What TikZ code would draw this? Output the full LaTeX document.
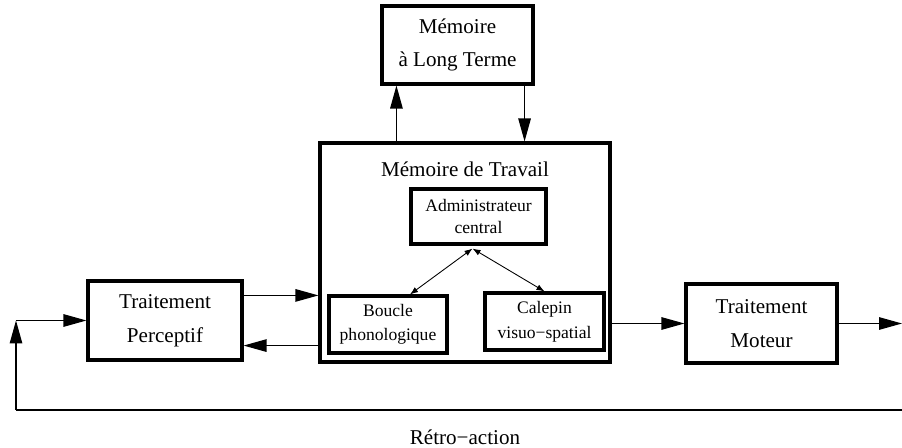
\documentclass[tikz,border=0pt]{standalone}
\usepackage{fontspec}
\setmainfont{Liberation Serif}
\usetikzlibrary{arrows.meta,positioning,calc}

\begin{document}
\begin{tikzpicture}[x=0.02cm,y=-0.02cm,>={Triangle[length=4.6mm,width=2.5mm]},
    boite/.style={draw,line width=1.8pt,align=center,inner sep=0pt,font=\fontsize{12pt}{14.5pt}\selectfont},
    petite/.style={draw,line width=1.8pt,align=center,inner sep=0pt,font=\fontsize{10pt}{12pt}\selectfont},
    texte/.style={font=\fontsize{12pt}{14.5pt}\selectfont},
    fleche/.style={->,line width=0.7pt},
    lien/.style={<->,line width=0.5pt,>={Latex[length=1.6mm,width=1.2mm]}}]

        \useasboundingbox (0,0) rectangle (902,448);

        % --- Boites ---
        \node[boite,minimum width=3.02cm,minimum height=1.56cm] (mlt) at (457.5,45) {Mémoire\\[4pt]à Long Terme};
        \node[boite,minimum width=5.8cm,minimum height=4.38cm] (mdt) at (465,252.5) {};
        \node[texte] (titre) at (465,169) {Mémoire de Travail};

        \node[petite,minimum width=2.7cm,minimum height=1.1cm] (adm) at (478.5,216.5) {Administrateur\\central};
        \node[petite,minimum width=2.36cm,minimum height=1.14cm] (bou) at (388,324.5) {Boucle\\[2pt]phonologique};
        \node[petite,minimum width=2.38cm,minimum height=1.14cm] (cal) at (544.5,321.5) {Calepin\\[2pt]visuo−spatial};

        \node[boite,minimum width=3.08cm,minimum height=1.58cm] (per) at (165,320.5) {Traitement\\[5pt]Perceptif};
        \node[boite,minimum width=3.02cm,minimum height=1.58cm] (mot) at (761.5,323.5) {Traitement\\[5pt]Moteur};

        \node[texte] (retro) at (465,437) {Rétro−action};

        % --- Points d'attache ---
        \coordinate (haut) at ([xshift=0.32cm]mlt.south west);
        \coordinate (bas) at ([xshift=-0.2cm]mlt.south east);
        \coordinate (entree) at ([yshift=-0.32cm]per.north east);
        \coordinate (rendu) at ([yshift=0.32cm]per.south east);
        \coordinate (bord) at (902,410);
        \coordinate (coin) at (16,410);
        \coordinate (pivot) at ([xshift=-0.12cm,yshift=-0.06cm]adm.south);

        % Memoire a long terme
        \draw[fleche] (haut |- mdt.north) -- (haut);
        \draw[fleche] (bas) -- (bas |- mdt.north);

        % Perception
        \draw[fleche] (entree) -- (entree -| mdt.west);
        \draw[fleche] (rendu -| mdt.west) -- (rendu);

        % Action
        \draw[fleche] (mot.west -| mdt.east) -- (mot.west);
        \draw[fleche] (mot.east) -- (mot.east -| bord);

        % Retro-action
        \draw[line width=0.7pt] (bord) -- (coin);
        \draw[fleche] (coin) -- (coin |- per.west);
        \draw[fleche] (coin |- per.west) -- (per.west);

        % Administrateur central
        \draw[lien] (pivot) -- ([xshift=0.44cm]bou.north);
        \draw[lien] (pivot) -- (cal.north);

\end{tikzpicture}
\end{document}
